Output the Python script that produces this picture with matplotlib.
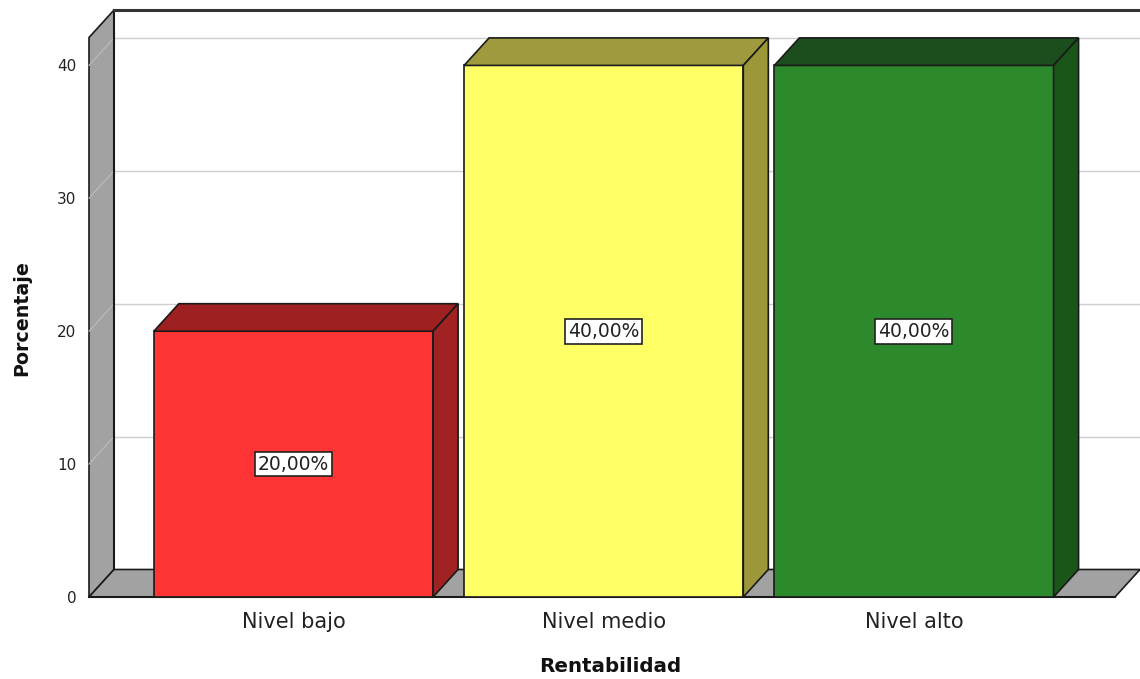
import matplotlib
matplotlib.use("Agg")
import matplotlib.pyplot as plt
from matplotlib.patches import Polygon

# Data
categories = ["Nivel bajo", "Nivel medio", "Nivel alto"]
percentages = [20.0, 40.0, 40.0]
y_ticks = [0, 10, 20, 30, 40]
x_title = "Rentabilidad"
y_title = "Porcentaje"

# Styling
front_colors = ["#ff3434", "#ffff66", "#2c8a2c"]
top_colors = ["#9e2020", "#9f9a3e", "#1c4d1c"]
side_colors = ["#a02222", "#9c983a", "#1a561a"]
wall_color = "#a2a2a2"
edge = "#1a1a1a"
grid_color = "#cfcfcf"

bar_width = 0.9
dx, dy = 0.0806, 2.07            # depth offset of the pseudo-3D box
x_left, x_right = -0.659, 2.648  # front plane extent
y_top = 42.1                     # front top of the walls

fig = plt.figure(figsize=(11.4, 6.79), dpi=100)
ax = fig.add_axes([89 / 1140, 1 - 597 / 679, (1140 - 89) / 1140, (597 - 10) / 679])
ax.set_xlim(x_left, x_right + dx)
ax.set_ylim(0, y_top + dy)
for s in ax.spines.values():
    s.set_visible(False)


def poly(pts, fc, lw=1.0, ec=edge, z=1):
    ax.add_patch(Polygon(pts, closed=True, facecolor=fc, edgecolor=ec,
                         linewidth=lw, zorder=z, clip_on=False,
                         joinstyle="miter"))


# Back wall
poly([(x_left + dx, dy), (x_right + dx, dy), (x_right + dx, y_top + dy),
      (x_left + dx, y_top + dy)], "white", lw=0, ec="none", z=0)
# Grid lines on the back wall and the side wall
for t in y_ticks[1:]:
    ax.plot([x_left + dx, x_right + dx], [t + dy, t + dy], color=grid_color,
            lw=1.0, zorder=0.5, clip_on=False)

# Left wall
poly([(x_left, 0), (x_left, y_top), (x_left + dx, y_top + dy), (x_left + dx, dy)],
     wall_color, lw=1.2, z=1)
for t in y_ticks[1:]:
    ax.plot([x_left, x_left + dx], [t, t + dy], color="#bdbdbd", lw=0.8,
            zorder=1.1, clip_on=False)

# Floor
poly([(x_left, 0), (x_right, 0), (x_right + dx, dy), (x_left + dx, dy)],
     wall_color, lw=1.2, z=1)

# Back wall frame: left edge and top border
ax.plot([x_left + dx, x_left + dx], [dy, y_top + dy], color=edge, lw=1.5,
        zorder=1.2, clip_on=False)
ax.plot([x_left + dx, x_right + dx], [y_top + dy, y_top + dy], color="#333333",
        lw=2.2, zorder=1.2, clip_on=False)
ax.plot([x_left, x_right], [0, 0], color=edge, lw=1.5, zorder=1.3, clip_on=False)

# Bars
for i, (v, fc, tc, sc) in enumerate(zip(percentages, front_colors, top_colors, side_colors)):
    x0, x1 = i - bar_width / 2, i + bar_width / 2
    z = 2 + i
    poly([(x0, 0), (x1, 0), (x1, v), (x0, v)], fc, lw=1.2, z=z)
    poly([(x0, v), (x1, v), (x1 + dx, v + dy), (x0 + dx, v + dy)], tc, lw=1.2, z=z)
    poly([(x1, 0), (x1 + dx, dy), (x1 + dx, v + dy), (x1, v)], sc, lw=1.2, z=z)
    label = f"{v:.2f}%".replace(".", ",")
    ax.text(i, v / 2, label, ha="center", va="center", fontsize=13.5,
            family="DejaVu Sans", color="#222222", zorder=10,
            bbox=dict(boxstyle="square,pad=0.15", facecolor="white",
                      edgecolor="#222222", linewidth=1.2))

# Axes ticks and labels
ax.set_yticks(y_ticks)
ax.set_yticklabels([str(t) for t in y_ticks], fontsize=11, family="DejaVu Sans",
                   color="#222222")
ax.set_xticks(range(len(categories)))
ax.set_xticklabels(categories, fontsize=15, family="DejaVu Sans", color="#222222")
ax.tick_params(axis="y", length=0, pad=9)
ax.tick_params(axis="x", length=0, pad=11)

fig.text(610 / 1140, 1 - 667 / 679, x_title, ha="center", va="center",
         fontsize=14.3, fontweight="bold", family="DejaVu Sans", color="#111111")
fig.text(22 / 1140, 1 - 318 / 679, y_title, ha="center", va="center",
         rotation=90, fontsize=13.7, fontweight="bold", family="DejaVu Sans",
         color="#111111")

fig.savefig("out.png", dpi=100, facecolor="white")
